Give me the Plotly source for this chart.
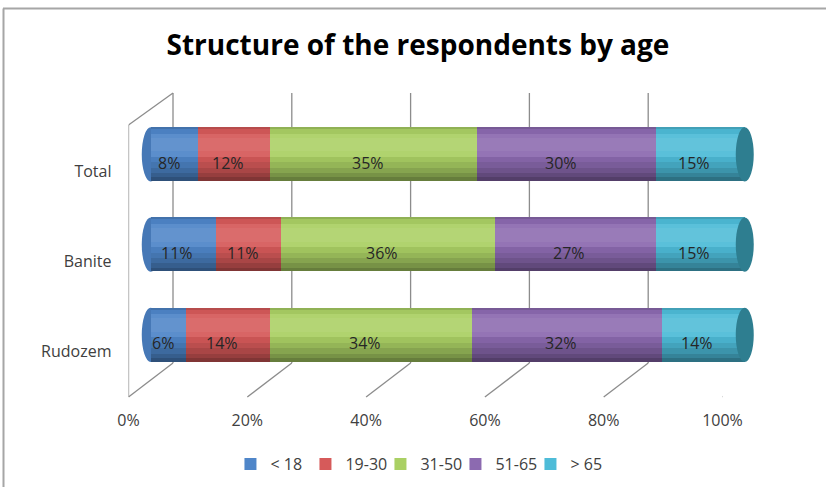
import plotly.graph_objects as go

# ---------------- data ----------------
categories = ["Total", "Banite", "Rudozem"]
series_names = ["< 18", "19-30", "31-50", "51-65", "> 65"]
v_lt18 = [8, 11, 6]
v_19_30 = [12, 11, 14]
v_31_50 = [35, 36, 34]
v_51_65 = [30, 27, 32]
v_gt65 = [15, 15, 14]
tick_values = [0, 20, 40, 60, 80, 100]
tick_labels = ["0%", "20%", "40%", "60%", "80%", "100%"]

series_values = [v_lt18, v_19_30, v_31_50, v_51_65, v_gt65]
colors = ["#4F86C9", "#D65A5A", "#AAD064", "#8C6AB0", "#4EBCD8"]
cap_color = "#2E7E90"
left_cap_color = "#4678B6"

W, H = 826, 487
def px_x(p):
    return p / W
def px_y(p):
    return 1 - p / H

FONT = "Open Sans"
TXT = "#404040"

# geometry (pixels)
FRONT_X0, FRONT_X1 = 128.5, 722.5
DEPTH_X, DEPTH_Y = 44.5, 34
MID_X0, MID_X1 = FRONT_X0 + DEPTH_X / 2, FRONT_X1 + DEPTH_X / 2
PAD = 4  # axis units of padding so the end caps are not clipped
SCALE = (MID_X1 - MID_X0) / 100
FRONT_BOTTOM = 397
BACK_BOTTOM = FRONT_BOTTOM - DEPTH_Y
BACK_TOP = 93
FRONT_TOP = BACK_TOP + 32
ROW = 90.25
MID_BOTTOM = FRONT_BOTTOM - DEPTH_Y / 2
BAR_W = 0.6

fig = go.Figure()

bases = [0, 0, 0]
for name, vals, col in zip(series_names, series_values, colors):
    fig.add_trace(go.Bar(
        y=categories, x=vals, base=list(bases), orientation="h", name=name,
        width=BAR_W, marker=dict(color=col, line=dict(width=0)),
        hoverinfo="skip", xaxis="x", yaxis="y",
    ))
    bases = [b + v for b, v in zip(bases, vals)]
totals = bases

# cylinder shading: nested overlays (start fraction from top, end fraction, rgb, alpha)
shade = [
    (0.00, 0.04, "0,0,0", 0.15),
    (0.04, 0.12, "0,0,0", 0.04),
    (0.12, 0.55, "255,255,255", 0.07),
    (0.20, 0.45, "255,255,255", 0.05),
    (0.55, 1.00, "0,0,0", 0.06),
    (0.65, 1.00, "0,0,0", 0.07),
    (0.75, 1.00, "0,0,0", 0.09),
    (0.85, 1.00, "0,0,0", 0.11),
    (0.93, 1.00, "0,0,0", 0.14),
]
for s0, s1, rgb, a in shade:
    fig.add_trace(go.Bar(
        y=categories, x=totals, base=[0] * len(categories), orientation="h",
        width=BAR_W * (s1 - s0), offset=-BAR_W / 2 + BAR_W * s0,
        marker=dict(color=f"rgba({rgb},{a})", line=dict(width=0)),
        showlegend=False, hoverinfo="skip", xaxis="x", yaxis="y",
    ))

fig.add_trace(go.Scatter(
    x=[0] * len(categories), y=categories, mode="markers",
    marker=dict(opacity=0), showlegend=False, hoverinfo="skip",
    xaxis="x2", yaxis="y2",
))

shapes = []
line_style = dict(color="#8c8c8c", width=1.3)
for k in tick_values:
    shapes.append(dict(type="line", xref="x2", yref="paper", xsizemode="pixel",
                       xanchor=k, x0=DEPTH_X, x1=DEPTH_X,
                       y0=px_y(BACK_BOTTOM), y1=px_y(BACK_TOP),
                       line=line_style, layer="below"))
    shapes.append(dict(type="line", xref="x2", yref="paper", xsizemode="pixel",
                       xanchor=k, x0=DEPTH_X, x1=0,
                       y0=px_y(BACK_BOTTOM), y1=px_y(FRONT_BOTTOM),
                       line=line_style, layer="below"))
shapes.append(dict(type="line", xref="x2", yref="paper", xsizemode="pixel",
                   xanchor=tick_values[0], x0=0, x1=0,
                   y0=px_y(FRONT_BOTTOM), y1=px_y(FRONT_TOP),
                   line=line_style, layer="below"))
shapes.append(dict(type="line", xref="x2", yref="paper", xsizemode="pixel",
                   xanchor=tick_values[0], x0=0, x1=DEPTH_X,
                   y0=px_y(FRONT_TOP), y1=px_y(BACK_TOP),
                   line=line_style, layer="below"))

for i, t in enumerate(totals):
    shapes.append(dict(type="circle", xref="x", yref="y", xsizemode="pixel",
                       xanchor=0, x0=-9, x1=9,
                       y0=i - BAR_W / 2, y1=i + BAR_W / 2,
                       fillcolor=left_cap_color, line=dict(width=0), layer="below"))
    shapes.append(dict(type="circle", xref="x", yref="y", xsizemode="pixel",
                       xanchor=t, x0=-9, x1=9,
                       y0=i - BAR_W / 2, y1=i + BAR_W / 2,
                       fillcolor=cap_color, line=dict(width=0), layer="above"))

shapes.append(dict(type="line", xref="paper", yref="paper", x0=px_x(3), x1=1.01,
                   y0=px_y(8.5), y1=px_y(8.5), line=dict(color="#a6a6a6", width=2)))
shapes.append(dict(type="line", xref="paper", yref="paper", x0=px_x(3.5), x1=px_x(3.5),
                   y0=px_y(8.5), y1=-0.01, line=dict(color="#a6a6a6", width=2)))

annotations = []
run = [0, 0, 0]
for vals in series_values:
    for i, v in enumerate(vals):
        annotations.append(dict(
            x=run[i] + v / 2, y=i, xref="x", yref="y", text=f"{v}%",
            showarrow=False, xshift=-6, yshift=-8.5,
            font=dict(family=FONT, size=16, color="#262626"),
        ))
    run = [r + v for r, v in zip(run, vals)]

fig.update_layout(
    width=W, height=H, autosize=False,
    margin=dict(l=0, r=0, t=0, b=0, pad=0, autoexpand=False),
    paper_bgcolor="white", plot_bgcolor="rgba(0,0,0,0)",
    barmode="overlay", bargap=0,
    title=dict(text="Structure of the respondents by age",
               font=dict(family=FONT, size=28, color="black", weight="bold"),
               x=0.506, xanchor="center", y=px_y(45), yanchor="middle"),
    xaxis=dict(domain=[px_x(MID_X0 - PAD * SCALE), px_x(MID_X1 + PAD * SCALE)],
               range=[-PAD, 100 + PAD], visible=False, fixedrange=True),
    yaxis=dict(domain=[px_y(MID_BOTTOM), px_y(MID_BOTTOM - 3 * ROW)],
               type="category", categoryorder="array", categoryarray=categories,
               range=[2.5, -0.5], visible=False, fixedrange=True),
    xaxis2=dict(domain=[px_x(FRONT_X0), px_x(FRONT_X1)], range=[0, 100],
                anchor="y2", tickvals=tick_values, ticktext=tick_labels,
                showgrid=False, zeroline=False, showline=False,
                ticks="", ticklabelstandoff=12, automargin=False,
                tickfont=dict(family=FONT, size=16, color=TXT), fixedrange=True),
    yaxis2=dict(domain=[px_y(FRONT_BOTTOM), px_y(FRONT_BOTTOM - 3 * ROW)],
                anchor="x2", type="category", categoryorder="array",
                categoryarray=categories, range=[2.5, -0.5],
                showgrid=False, zeroline=False, showline=False, ticks="",
                ticklabelstandoff=16, automargin=False,
                tickfont=dict(family=FONT, size=16, color=TXT), fixedrange=True),
    legend=dict(orientation="h", x=0.506, xanchor="center", y=px_y(464),
                yanchor="middle", font=dict(family=FONT, size=16, color=TXT),
                traceorder="normal", itemclick=False, itemdoubleclick=False,
                entrywidth=30, itemwidth=30),
    shapes=shapes,
    annotations=annotations,
    showlegend=True,
)

fig.write_html(
    "out.html",
    config={"displayModeBar": False, "responsive": False},
    post_script="document.body.style.margin='0px';document.body.style.padding='0px';document.body.style.overflow='hidden';",
)
